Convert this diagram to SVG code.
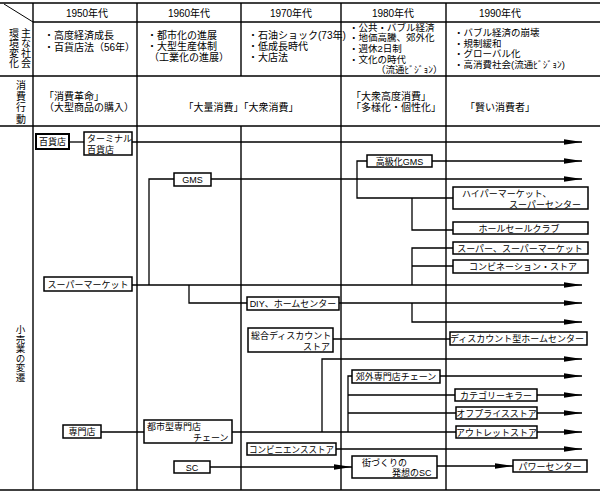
<svg xmlns="http://www.w3.org/2000/svg" width="600" height="494" viewBox="0 0 600 494">
<style>
text{font-family:"Liberation Sans","Noto Sans CJK JP",sans-serif;fill:#000}
.t{font-size:10px}
.s{font-size:9.5px}
.b{font-size:9px}
.m{text-anchor:middle}
.v{writing-mode:vertical-rl}
.grid line{stroke:#000;stroke-width:1.4;fill:none}
.box{fill:#fff;stroke:#000;stroke-width:1.5}
.conn path{stroke:#000;stroke-width:1.3;fill:none}
.conn path.a{marker-end:url(#arr)}
</style>
<defs>
<marker id="arr" markerUnits="userSpaceOnUse" markerWidth="18" markerHeight="6" refX="18" refY="3" orient="auto">
<path d="M0,0.2 L18,3 L0,5.8 z" fill="#000"/>
</marker>
</defs>
<rect width="600" height="494" fill="#fff"/>
<g id="grid" class="grid">
<line x1="0" y1="3" x2="600" y2="3"/>
<line x1="33" y1="22" x2="600" y2="22"/>
<line x1="0" y1="76" x2="600" y2="76"/>
<line x1="0" y1="126" x2="600" y2="126"/>
<line x1="0" y1="490" x2="600" y2="490"/>
<line x1="33" y1="3" x2="33" y2="490"/>
<line x1="137" y1="3" x2="137" y2="490"/>
<line x1="241" y1="3" x2="241" y2="76"/>
<line x1="241" y1="126" x2="241" y2="490"/>
<line x1="341" y1="3" x2="341" y2="490"/>
<line x1="446" y1="3" x2="446" y2="490"/>
<line x1="4" y1="4" x2="33" y2="22" style="stroke-width:1"/>
</g>
<g id="header">
<text class="t m" x="87" y="16.5">1950年代</text>
<text class="t m" x="189" y="16.5">1960年代</text>
<text class="t m" x="291" y="16.5">1970年代</text>
<text class="t m" x="393" y="16.5">1980年代</text>
<text class="t m" x="500" y="16.5">1990年代</text>
</g>
<g id="row-labels">
<text class="t v" x="25" y="28">主な社会</text>
<text class="t v" x="13" y="28">環境変化</text>
<text class="t v" x="20" y="80" style="letter-spacing:1.3px">消費行動</text>
<text class="s v" x="20" y="325">小売業の変遷</text>
</g>
<g id="env">
<text class="t"><tspan x="44" y="39">・高度経済成長</tspan><tspan x="44" y="50.5">・百貨店法（56年）</tspan></text>
<text class="t"><tspan x="147" y="38.5">・都市化の進展</tspan><tspan x="147" y="49.8">・大型生産体制</tspan><tspan x="149" y="61.1">（工業化の進展）</tspan></text>
<text class="t"><tspan x="248" y="38.5">・石油ショック(73年)</tspan><tspan x="248" y="49.8">・低成長時代</tspan><tspan x="248" y="61.1">・大店法</tspan></text>
<text class="s"><tspan x="349" y="30.5">・公共・バブル経済</tspan><tspan x="349" y="41.2">・地価高騰、郊外化</tspan><tspan x="349" y="51.9">・週休2日制</tspan><tspan x="349" y="62.6">・文化の時代</tspan><tspan x="376" y="73.3">（流通ﾋﾞｼﾞｮﾝ）</tspan></text>
<text class="s"><tspan x="454" y="36">・バブル経済の崩壊</tspan><tspan x="454" y="46.7">・規制緩和</tspan><tspan x="454" y="57.4">・グローバル化</tspan><tspan x="454" y="68.1">・高消費社会(流通ﾋﾞｼﾞｮﾝ)</tspan></text>
</g>
<g id="consumption">
<text class="t"><tspan x="44" y="100">「消費革命」</tspan><tspan x="44" y="111.3">（大型商品の購入）</tspan></text>
<text class="t m" x="241" y="111">「大量消費」「大衆消費」</text>
<text class="t"><tspan x="351" y="100">「大衆高度消費」</tspan><tspan x="351" y="111.4">「多様化・個性化」</tspan></text>
<text class="t m" x="500" y="111">「賢い消費者」</text>
</g>
<g id="connectors" class="conn">
<path d="M69,142 H84"/>
<path class="a" d="M132,142 H582"/>
<path class="a" d="M211,179 H582"/>
<path d="M174,179 H149 V285"/>
<path class="a" d="M432,161 H582"/>
<path d="M367,161 H357 V198 H453"/>
<path d="M412,198 V230 H453"/>
<path class="a" d="M132,285 H582"/>
<path d="M412,285 V248 H453"/>
<path d="M412,266 H453"/>
<path d="M189,285 V303 H247"/>
<path class="a" d="M339,303 H582"/>
<path class="a" d="M412,303 V322 H582"/>
<path d="M333,339 H450"/>
<path d="M101,432 H144"/>
<path d="M232,432 H456"/>
<path class="a" d="M537,432 H582"/>
<path class="a" d="M322,432 V359 H582"/>
<path d="M348,432 V376 H352"/>
<path class="a" d="M440,376 H582"/>
<path d="M348,395 H455"/>
<path class="a" d="M537,395 H582"/>
<path d="M348,413 H456"/>
<path class="a" d="M537,413 H582"/>
<path class="a" d="M336,449 H582"/>
<path class="a" d="M210,467 H352"/>
<path class="a" d="M437,466 H513"/>
</g>
<g id="n-hyakkaten"><rect class="box" x="36" y="134" width="33" height="15" style="stroke-width:2"/><text class="b m" x="52.5" y="145">百貨店</text></g>
<g id="n-terminal"><rect class="box" x="84" y="132" width="48" height="23"/><text class="b"><tspan x="87" y="142">ターミナル</tspan><tspan x="87" y="152.5">百貨店</tspan></text></g>
<g id="n-gms"><rect class="box" x="174" y="173" width="37" height="13"/><text class="b m" x="192.5" y="183">GMS</text></g>
<g id="n-koukyuu-gms"><rect class="box" x="367" y="155" width="65" height="12"/><text class="b m" x="399.5" y="164.5">高級化GMS</text></g>
<g id="n-hyper"><rect class="box" x="453" y="187" width="135" height="22"/><text class="b"><tspan x="462" y="197.3">ハイパーマーケット、</tspan><tspan x="509" y="207.6">スーパーセンター</tspan></text></g>
<g id="n-wholesale"><rect class="box" x="453" y="222" width="135" height="12"/><text class="b m" x="519" y="231.5">ホールセールクラブ</text></g>
<g id="n-super2"><rect class="box" x="453" y="242" width="135" height="12"/><text class="b m" x="520" y="251.5">スーパー、スーパーマーケット</text></g>
<g id="n-combination"><rect class="box" x="453" y="260" width="135" height="13"/><text class="b m" x="523" y="270">コンビネーション・ストア</text></g>
<g id="n-supermarket"><rect class="box" x="44" y="277" width="88" height="14"/><text class="b m" x="88" y="287.5">スーパーマーケット</text></g>
<g id="n-diy"><rect class="box" x="247" y="297" width="92" height="13"/><text class="b m" x="293" y="307">DIY、ホームセンター</text></g>
<g id="n-sougou-discount"><rect class="box" x="248" y="328" width="85" height="24"/><text class="b"><tspan x="251" y="338.5">総合ディスカウント</tspan><tspan x="303" y="349.5">ストア</tspan></text></g>
<g id="n-discount-hc"><rect class="box" x="450" y="332" width="137" height="13"/><text class="b m" x="517" y="342">ディスカウント型ホームセンター</text></g>
<g id="n-kougai"><rect class="box" x="352" y="370" width="88" height="13"/><text class="b m" x="396" y="380">郊外専門店チェーン</text></g>
<g id="n-category"><rect class="box" x="455" y="389" width="82" height="12"/><text class="b m" x="496" y="398.5">カテゴリーキラー</text></g>
<g id="n-offprice"><rect class="box" x="456" y="407" width="81" height="12"/><text class="b m" x="496.5" y="416.5">オフプライスストア</text></g>
<g id="n-outlet"><rect class="box" x="456" y="426" width="81" height="12"/><text class="b m" x="496.5" y="435.5">アウトレットストア</text></g>
<g id="n-senmonten"><rect class="box" x="63" y="425" width="38" height="13"/><text class="b m" x="82" y="435">専門店</text></g>
<g id="n-toshigata"><rect class="box" x="144" y="420" width="88" height="23"/><text class="b"><tspan x="147" y="429.5">都市型専門店</tspan><tspan x="193" y="440.5">チェーン</tspan></text></g>
<g id="n-conveni"><rect class="box" x="247" y="443" width="89" height="12"/><text class="b m" x="291.5" y="452.5" textLength="85" lengthAdjust="spacingAndGlyphs">コンビニエンスストア</text></g>
<g id="n-sc"><rect class="box" x="174" y="461" width="36" height="12"/><text class="b m" x="192" y="470.5">SC</text></g>
<g id="n-machizukuri"><rect class="box" x="352" y="456" width="85" height="22"/><text class="b"><tspan x="362" y="465.8">街づくりの</tspan><tspan x="392" y="476">発想のSC</tspan></text></g>
<g id="n-power"><rect class="box" x="513" y="460" width="74" height="12"/><text class="b m" x="550" y="469.5">パワーセンター</text></g>
</svg>
